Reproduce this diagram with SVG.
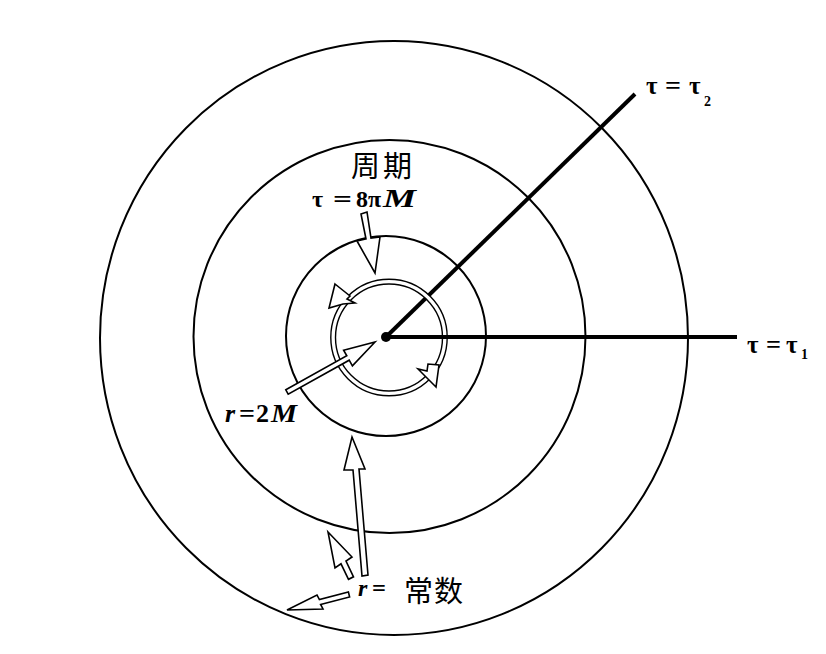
<svg xmlns="http://www.w3.org/2000/svg" width="826" height="654" viewBox="0 0 826 654">
<style>
.c{fill:none;stroke:#000;stroke-width:2}
.ring{fill:none;stroke:#000;stroke-width:1.4}
.thick{stroke:#000;stroke-width:4;stroke-linecap:butt}
.ha{fill:#fff;stroke:#000;stroke-width:1.6;stroke-linejoin:miter}
.t{font-family:"Liberation Serif",serif;font-weight:bold;fill:#000}
.it{font-style:italic}
.cjk{font-family:"Noto Sans CJK SC","Noto Sans CJK TC",sans-serif;fill:#000}
</style>
<rect width="826" height="654" fill="#fff"/>
<g id="circles">
<ellipse id="outer" class="c" cx="394" cy="338" rx="294" ry="297"/>
<ellipse id="middle" class="c" cx="389.5" cy="336.5" rx="196" ry="196.5"/>
<circle id="inner" class="c" cx="386" cy="336" r="100"/>
</g>
<g id="connectors">
<line class="thick" x1="386" y1="337" x2="737" y2="337"/>
<line class="thick" x1="386" y1="337" x2="635" y2="94"/>
</g>
<g id="ring">
<circle cx="389" cy="337.5" r="56" fill="none" stroke="#fff" stroke-width="4"/>
<circle class="ring" cx="389" cy="337.5" r="58.2"/>
<circle class="ring" cx="389" cy="337.5" r="53.5"/>
<line class="thick" x1="420" y1="337" x2="460" y2="337"/>
<polygon class="ha" points="335,284 350,296 347,299 355,303 343,304 329,308"/>
<polygon class="ha" points="436,387 418,369 427,371 428,364 439,365"/>
</g>
<circle id="center" cx="386" cy="337" r="5" fill="#000"/>
<g id="arrows">
<polygon class="ha" points="361,214 367,212 371,238 380,237 375,273 357,241 366,239"/>
<polygon class="ha" points="285.8,389.8 346.8,355.8 343.6,350.2 375,342 352.4,365.8 349.2,360.2 288.2,394.2"/>
<polygon class="ha" points="352,437 365,469 359,469 368,575 362,576 353,470 344,470"/>
<polygon class="ha" points="328,532 352,557 346,561 353.5,576.8 348.5,579.3 341,563.8 335,568"/>
<polygon class="ha" points="287,610 317,595 319.4,599.6 348.4,592.1 349.6,596.9 320.6,604.4 323,609"/>
</g>
<g id="labels">
<text class="cjk" x="351" y="177" font-size="29" letter-spacing="3">周期</text>
<text class="t" font-size="24" y="207"><tspan x="312">τ</tspan><tspan x="333" textLength="19" lengthAdjust="spacingAndGlyphs">=</tspan><tspan x="356">8π</tspan><tspan x="383" class="it" font-size="26" textLength="33" lengthAdjust="spacingAndGlyphs">M</tspan></text>
<text class="t" font-size="25" y="94"><tspan x="646">τ</tspan><tspan x="665" textLength="16" lengthAdjust="spacingAndGlyphs">=</tspan><tspan x="689">τ</tspan><tspan x="704" y="106" font-size="14">2</tspan></text>
<text class="t" font-size="25" y="353"><tspan x="747">τ</tspan><tspan x="766" textLength="15" lengthAdjust="spacingAndGlyphs">=</tspan><tspan x="786">τ</tspan><tspan x="801" y="359" font-size="14">1</tspan></text>
<text class="t" font-size="26" y="422"><tspan x="225" class="it">r</tspan><tspan x="239" textLength="16" lengthAdjust="spacingAndGlyphs">=</tspan><tspan x="256">2</tspan><tspan x="271" class="it" textLength="26" lengthAdjust="spacingAndGlyphs">M</tspan></text>
<text class="t" font-size="24" y="596"><tspan x="358" class="it">r</tspan><tspan x="372" textLength="14" lengthAdjust="spacingAndGlyphs">=</tspan></text>
<text class="cjk" x="404" y="602" font-size="29" letter-spacing="1">常数</text>
</g>
</svg>
